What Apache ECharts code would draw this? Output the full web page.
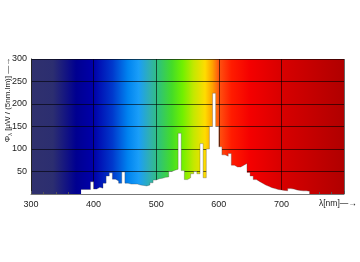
<!DOCTYPE html>
<html><head><meta charset="utf-8">
<script src="https://cdn.jsdelivr.net/npm/echarts@6/dist/echarts.min.js"></script>
<style>html,body{margin:0;padding:0;background:#fff}#c{width:360px;height:262px}</style>
</head><body><div id="c"></div>
<script>
// wavelength bins (nm), 5 nm wide, each value holds from its start to the next bin
const wavelengths = [380,385,390,395,400,405,410,415,420,425,430,435,440,445,450,455,460,465,470,475,480,485,490,495,500,505,510,515,520,525,530,535,540,545,550,555,560,565,570,575,580,585,590,595,600,605,610,615,620,625,630,635,640,645,650,655,660,665,670,675,680,685,690,695,700,705,710,715,720,725,730,735,740,745];
const flux = [10,10,10,27,11,15,13,24,40,47,33,29,24,49,24,22,22,22,20,19,18,20,25,31,34,35,37,38,50,53,55,135,52,32,36,45,50,45,112,36,100,150,224,150,105,87,84,90,64,60,60,64,68,48,40,32,28,24,20,17,14,12,10,9,8,7,12,11,9,8,7,7,6,0];
const xTicks = [300,400,500,600,700];
const yTicks = [50,100,150,200,250,300];
const xName = 'λ[nm]';
const yName = ['Φ','λ',' [µW / (5nm.lm)]'];

const spectrumStops = [
  [300,'#30316e'],[335,'#2c2e70'],[372,'#000090'],[400,'#0000aa'],[430,'#0038cc'],
  [455,'#0084f0'],[472,'#1a9ef8'],[490,'#30b0b0'],[505,'#30c474'],[525,'#44dc28'],
  [542,'#70f000'],[560,'#c4e800'],[578,'#ffdc00'],[590,'#ffa000'],[600,'#ff5410'],
  [620,'#ff1c00'],[650,'#f40000'],[700,'#d80000'],[800,'#b00000']
];

const chart = echarts.init(document.getElementById('c'), null, {renderer:'canvas'});
const font = 'Liberation Sans';
chart.setOption({
  animation:false,
  grid:{left:31,right:16,top:59,bottom:68,show:true,borderWidth:0,containLabel:false,outerBoundsMode:'none',
    backgroundColor:{type:'linear',x:0,y:0,x2:1,y2:0,
      colorStops:spectrumStops.map(s=>({offset:(s[0]-300)/500,color:s[1]}))}},
  graphic:[
    {type:'text',x:319,y:204,style:{text:xName+'—→',font:'8.5px '+font,fill:'#222',align:'left',verticalAlign:'middle'}},
    {type:'text',x:8,y:100,rotation:Math.PI/2,
      style:{text:'{p|'+yName[0]+'}{s|'+yName[1]+'}{p|'+yName[2]+' —→}',align:'center',verticalAlign:'middle',
        rich:{p:{fontFamily:font,fontSize:8,fill:'#222',color:'#222'},s:{fontFamily:font,fontSize:5.5,fill:'#222',color:'#222',padding:[4,0,0,0]}}}}
  ],
  xAxis:{type:'value',min:300,max:800,interval:100,
    axisLine:{show:true,lineStyle:{color:'#777',width:1}},
    axisTick:{show:true,inside:true,length:3,lineStyle:{color:'#555'}},
    minorTick:{show:true,splitNumber:5,length:2,lineStyle:{color:'#555'}},
    axisLabel:{fontFamily:font,fontSize:9,color:'#222',margin:6,
      formatter:v=>xTicks.includes(v)?String(v):''},
    splitLine:{show:true,lineStyle:{color:'rgba(0,0,0,0.6)',width:1}}},
  yAxis:{type:'value',min:0,max:300,interval:50,
    axisLine:{show:true,lineStyle:{color:'#222',width:1}},
    axisTick:{show:false},
    axisLabel:{fontFamily:font,fontSize:9,color:'#222',margin:4,
      formatter:v=>yTicks.includes(v)?String(v):''},
    splitLine:{show:true,lineStyle:{color:'rgba(0,0,0,0.6)',width:1}}},
  series:[{type:'line',step:'end',symbol:'none',
    data:wavelengths.map((w,i)=>[w,flux[i]]),
    lineStyle:{width:0.6,color:'rgba(60,60,60,0.5)'},
    areaStyle:{color:'#ffffff',opacity:1},z:3}]
});
</script></body></html>
